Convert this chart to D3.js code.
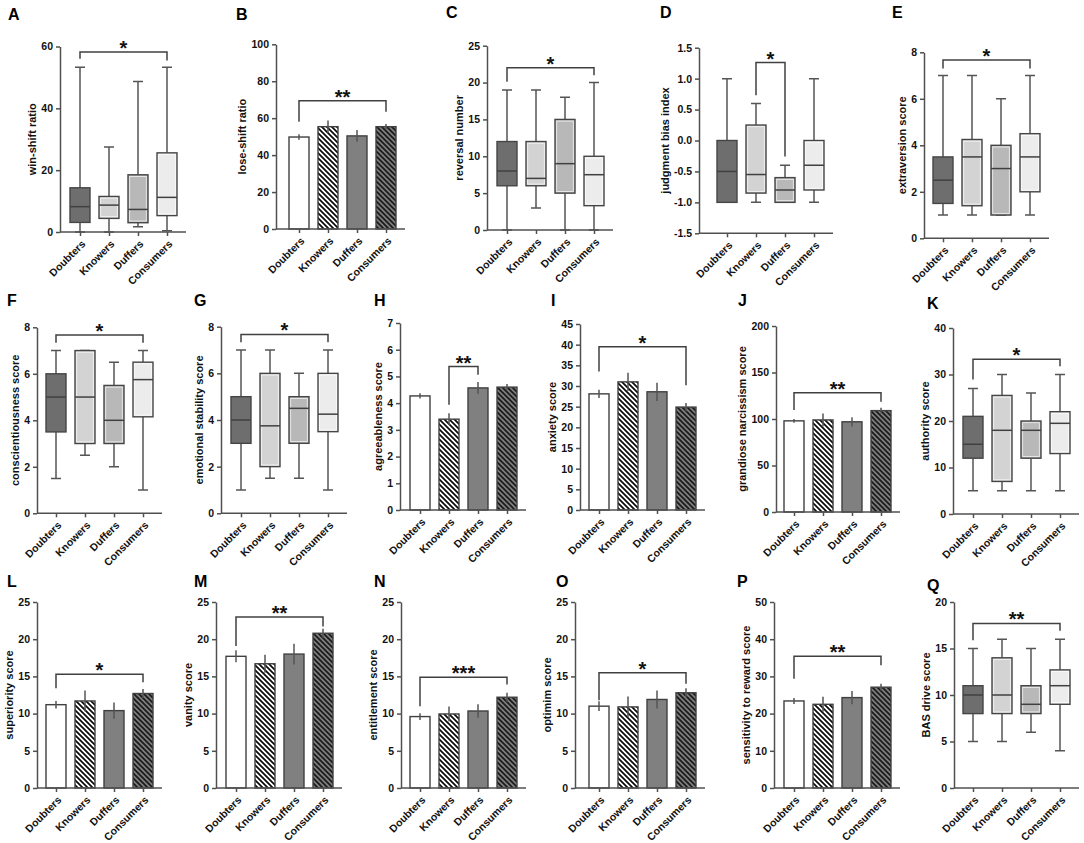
<!DOCTYPE html>
<html>
<head>
<meta charset="utf-8">
<script src="https://cdn.jsdelivr.net/npm/d3@7"></script>
<style>
  body { margin: 0; background: #fff; }
  svg { font-family: "Liberation Sans", Arial, sans-serif; }
  .axis .domain, .axis .tick line { stroke: #505050; stroke-width: 1.5; }
  .axis text { fill: #111; font-size: 10.5px; font-weight: bold; }
</style>
</head>
<body>
<script>
var groups = ["Doubters", "Knowers", "Duffers", "Consumers"];

// box plots: [min, q1, median, q3, max] per group
var winShift = [[0, 3.1, 8.2, 14.3, 53.3], [0, 4.4, 8.7, 11.5, 27.5], [1.7, 3.0, 7.3, 18.5, 48.7], [0.4, 5.3, 11.2, 25.6, 53.3]];
var reversalNumber = [[0, 6, 8, 12, 19], [3, 6, 7, 12, 19], [0, 5, 9, 15, 18], [0, 3.3, 7.5, 10, 20]];
var judgmentBias = [[-1, -1, -0.5, 0, 1], [-1, -0.85, -0.55, 0.25, 0.6], [-1, -1, -0.8, -0.6, -0.4], [-1, -0.8, -0.4, 0, 1]];
var extraversion = [[1, 1.5, 2.5, 3.5, 7], [1, 1.4, 3.5, 4.25, 7], [1, 1, 3, 4, 6], [1, 2, 3.5, 4.5, 7]];
var conscientiousness = [[1.5, 3.5, 5, 6, 7], [2.5, 3, 5, 7, 7], [2, 3, 4, 5.5, 6.5], [1, 4.15, 5.75, 6.5, 7]];
var emotionalStability = [[1, 3, 4, 5, 7], [1.5, 2, 3.75, 6, 7], [1.5, 3, 4.5, 5, 6], [1, 3.5, 4.25, 6, 7]];
var authority = [[5, 12, 15, 21, 27], [5, 7, 18, 25.5, 30], [5, 12, 18, 20, 26], [5, 13, 19.5, 22, 30]];
var basDrive = [[5, 8, 10, 11, 15], [5, 8, 10, 14, 16], [6, 8, 9, 11, 15], [4, 9, 11, 12.7, 16]];

// bar charts: means and error (sem)
var loseShiftMean = [49.8, 55.4, 50.4, 55.4], loseShiftErr = [1.5, 3.4, 3.2, 1.5];
var agreeablenessMean = [4.27, 3.4, 4.57, 4.6], agreeablenessErr = [0.1, 0.22, 0.22, 0.12];
var anxietyMean = [28.1, 31, 28.6, 24.9], anxietyErr = [1, 2.2, 2.2, 1];
var narcissismMean = [98, 99, 97, 109], narcissismErr = [2, 7, 5, 3];
var superiorityMean = [11.2, 11.7, 10.4, 12.7], superiorityErr = [0.5, 1.4, 1.1, 0.6];
var vanityMean = [17.7, 16.7, 18.0, 20.8], vanityErr = [0.8, 1.2, 1.4, 0.6];
var entitlementMean = [9.6, 9.95, 10.35, 12.2], entitlementErr = [0.45, 1.0, 0.9, 0.6];
var optimismMean = [11.0, 10.9, 11.9, 12.8], optimismErr = [0.65, 1.4, 1.2, 0.6];
var rewardMean = [23.4, 22.5, 24.3, 27.1], rewardErr = [0.8, 2, 1.8, 0.9];

// y ticks
var ticksA = [0, 20, 40, 60], ticksB = [0, 20, 40, 60, 80, 100], ticksC = [0, 5, 10, 15, 20, 25];
var ticksD = [-1.5, -1.0, -0.5, 0.0, 0.5, 1.0, 1.5], ticks8 = [0, 2, 4, 6, 8], ticksH = [0, 1, 2, 3, 4, 5, 6, 7];
var ticksI = [0, 5, 10, 15, 20, 25, 30, 35, 40, 45], ticksJ = [0, 50, 100, 150, 200], ticksK = [0, 10, 20, 30, 40];
var ticks25 = [0, 5, 10, 15, 20, 25], ticksP = [0, 10, 20, 30, 40, 50], ticksQ = [0, 5, 10, 15, 20];

// significance: [from, to, bracket y, left leg end, right leg end, label]
var sigA = [0, 3, 58.2, 56, 55.5, "*"], sigB = [0, 3, 69.5, 58, 63.5, "**"], sigC = [0, 3, 22, 20.1, 21, "*"];
var sigD = [1, 2, 1.26, 0.73, -0.26, "*"], sigE = [0, 3, 7.67, 7.3, 7.3, "*"], sigF = [0, 3, 7.67, 7.34, 7.34, "*"];
var sigG = [0, 3, 7.67, 7.33, 7.33, "*"], sigH = [1, 2, 5.37, 3.94, 5.06, "**"], sigI = [0, 3, 39.5, 33.5, 30.2, "*"];
var sigJ = [0, 3, 128.3, 109.7, 118.6, "**"], sigK = [0, 3, 33.3, 28.9, 31.75, "*"], sigL = [0, 3, 15.3, 13.4, 14.2, "*"];
var sigM = [0, 3, 23, 19.1, 21.7, "**"], sigN = [0, 3, 14.9, 11, 13.9, "***"], sigO = [0, 3, 15.5, 11.8, 14, "*"];
var sigP = [0, 3, 35.4, 29.4, 33, "**"], sigQ = [0, 3, 17.7, 15.9, 16.9, "**"];

var boxFill = ["#6e6e6e", "#d3d3d3", "#b8b8b8", "#ececec"];
var barFill = ["#fff", "url(#hatchLight)", "#808080", "url(#hatchDark)"];

var panels = [
  {id: "A", box: winShift, title: "win-shift ratio", ticks: ticksA, sig: sigA, ax: 60, c0: 80, top: 46.5, bot: 232, lx: 8, ly: 20},
  {id: "B", mean: loseShiftMean, err: loseShiftErr, title: "lose-shift ratio", ticks: ticksB, sig: sigB, ax: 276, c0: 299, top: 44.3, bot: 229, lx: 236, ly: 20},
  {id: "C", box: reversalNumber, title: "reversal number", ticks: ticksC, sig: sigC, ax: 487, c0: 507, top: 45.7, bot: 230, lx: 446, ly: 18},
  {id: "D", box: judgmentBias, title: "judgment bias index", ticks: ticksD, sig: sigD, ax: 699, c0: 727, top: 47.7, bot: 233.3, lx: 660, ly: 18, fmt: function(d) { return d.toFixed(1); }},
  {id: "E", box: extraversion, title: "extraversion score", ticks: ticks8, sig: sigE, ax: 924, c0: 943, top: 52.3, bot: 238.3, lx: 892, ly: 18},
  {id: "F", box: conscientiousness, title: "conscientiousness score", ticks: ticks8, sig: sigF, ax: 37, c0: 56, top: 327.3, bot: 513.3, lx: 7, ly: 306},
  {id: "G", box: emotionalStability, title: "emotional stability score", ticks: ticks8, sig: sigG, ax: 221, c0: 241, top: 326.7, bot: 513.3, lx: 194, ly: 306},
  {id: "H", mean: agreeablenessMean, err: agreeablenessErr, title: "agreeableness score", ticks: ticksH, sig: sigH, ax: 400, c0: 420, top: 323, bot: 510, lx: 374, ly: 306},
  {id: "I", mean: anxietyMean, err: anxietyErr, title: "anxiety score", ticks: ticksI, sig: sigI, ax: 580, c0: 599, top: 324, bot: 510, lx: 551, ly: 306},
  {id: "J", mean: narcissismMean, err: narcissismErr, title: "grandiose narcissism score", ticks: ticksJ, sig: sigJ, ax: 776, c0: 794, top: 326, bot: 512, lx: 738, ly: 306},
  {id: "K", box: authority, title: "authority score", ticks: ticksK, sig: sigK, ax: 953, c0: 973, top: 328, bot: 514, lx: 927, ly: 309},
  {id: "L", mean: superiorityMean, err: superiorityErr, title: "superiority score", ticks: ticks25, sig: sigL, ax: 37, c0: 56, top: 602, bot: 788, lx: 7, ly: 587},
  {id: "M", mean: vanityMean, err: vanityErr, title: "vanity score", ticks: ticks25, sig: sigM, ax: 216, c0: 236, top: 602, bot: 788, lx: 194, ly: 587},
  {id: "N", mean: entitlementMean, err: entitlementErr, title: "entitlement score", ticks: ticks25, sig: sigN, ax: 401, c0: 420, top: 602, bot: 788, lx: 374, ly: 587},
  {id: "O", mean: optimismMean, err: optimismErr, title: "optimim score", ticks: ticks25, sig: sigO, ax: 575, c0: 599, top: 602, bot: 788, lx: 556, ly: 587},
  {id: "P", mean: rewardMean, err: rewardErr, title: "sensitivity to reward score", ticks: ticksP, sig: sigP, ax: 774, c0: 794, top: 602, bot: 788, lx: 737, ly: 587},
  {id: "Q", box: basDrive, title: "BAS drive score", ticks: ticksQ, sig: sigQ, ax: 954, c0: 973, top: 602, bot: 788, lx: 927, ly: 591}
];

var svg = d3.select("body").append("svg")
    .attr("width", 1084)
    .attr("height", 843);

var defs = svg.append("defs");
function hatch(id, bg, fg) {
    var pat = defs.append("pattern").attr("id", id)
        .attr("patternUnits", "userSpaceOnUse")
        .attr("width", 5).attr("height", 5);
    pat.append("rect").attr("width", 5).attr("height", 5).attr("fill", bg);
    pat.append("path")
        .attr("d", "M-1,-1L6,6M-1,4L1,6M4,-1L6,1")
        .attr("stroke", fg).attr("stroke-width", 1.7);
}
hatch("hatchLight", "#fff", "#0a0a0a");
hatch("hatchDark", "#7e7e7e", "#1a1a1a");

panels.forEach(drawPanel);

function drawPanel (p) {
    var y = d3.scaleLinear()
        .domain([p.ticks[0], p.ticks[p.ticks.length - 1]])
        .range([p.bot, p.top]);
    var x = d3.scalePoint()
        .domain(groups)
        .range([p.c0, p.c0 + 87]);
    var g = svg.append("g");

    if (p.box) {
        var bx = g.selectAll(".bx").data(p.box).enter().append("g");
        bx.append("path")
            .attr("d", function(d, i) {
                var cx = x(groups[i]);
                return "M" + cx + "," + y(d[4]) + "V" + y(d[3]) +
                    "M" + cx + "," + y(d[1]) + "V" + y(d[0]) +
                    "M" + (cx - 5) + "," + y(d[4]) + "H" + (cx + 5) +
                    "M" + (cx - 5) + "," + y(d[0]) + "H" + (cx + 5);
            })
            .attr("stroke", "#555").attr("stroke-width", 1.5).attr("fill", "none");
        bx.append("rect")
            .attr("x", function(d, i) { return x(groups[i]) - 10; })
            .attr("y", function(d) { return y(d[3]); })
            .attr("width", 20)
            .attr("height", function(d) { return y(d[1]) - y(d[3]); })
            .attr("fill", function(d, i) { return boxFill[i]; })
            .attr("stroke", "#454545").attr("stroke-width", 1.4);
        bx.filter(function(d, i) { return i > 0; }).append("rect")
            .attr("x", function(d) { return x(groups[p.box.indexOf(d)]) - 8.3; })
            .attr("y", function(d) { return y(d[3]) + 1.7; })
            .attr("width", 16.6)
            .attr("height", function(d) { return Math.max(0, y(d[1]) - y(d[3]) - 3.4); })
            .attr("fill", "none")
            .attr("stroke", "#fff").attr("stroke-width", 0.8).attr("opacity", 0.8);
        bx.append("line")
            .attr("x1", function(d, i) { return x(groups[i]) - 10; })
            .attr("x2", function(d, i) { return x(groups[i]) + 10; })
            .attr("y1", function(d) { return y(d[2]); })
            .attr("y2", function(d) { return y(d[2]); })
            .attr("stroke", "#404040").attr("stroke-width", 1.5);
    } else {
        g.selectAll(".bar").data(p.mean).enter().append("rect")
            .attr("x", function(d, i) { return x(groups[i]) - 10; })
            .attr("y", function(d) { return y(d); })
            .attr("width", 20)
            .attr("height", function(d) { return y(p.ticks[0]) - y(d); })
            .attr("fill", function(d, i) { return barFill[i]; })
            .attr("stroke", "#404040").attr("stroke-width", 1.4);
        g.selectAll(".err").data(p.mean).enter().append("line")
            .attr("x1", function(d, i) { return x(groups[i]); })
            .attr("x2", function(d, i) { return x(groups[i]); })
            .attr("y1", function(d, i) { return y(d - p.err[i]); })
            .attr("y2", function(d, i) { return y(d + p.err[i]); })
            .attr("stroke", "#555").attr("stroke-width", 1.5);
    }

    // significance bracket
    var s = p.sig, xa = x(groups[s[0]]), xb = x(groups[s[1]]);
    g.append("path")
        .attr("d", "M" + xa + "," + y(s[3]) + "V" + y(s[2]) + "H" + xb + "V" + y(s[4]))
        .attr("fill", "none").attr("stroke", "#404040").attr("stroke-width", 1.5);
    g.append("text")
        .attr("x", (xa + xb) / 2)
        .attr("y", y(s[2]) + 3)
        .attr("text-anchor", "middle")
        .attr("font-size", 20).attr("font-weight", "bold").attr("fill", "#111")
        .text(s[5]);

    // axes
    var yAxis = g.append("g").attr("class", "axis")
        .attr("transform", "translate(" + p.ax + ",0)")
        .call(d3.axisLeft(y).tickValues(p.ticks).tickSize(4).tickSizeOuter(0)
            .tickFormat(p.fmt || d3.format("d")));
    var xAxis = g.append("g").attr("class", "axis")
        .attr("transform", "translate(0," + p.bot + ")")
        .call(d3.axisBottom(x).tickSize(4).tickSizeOuter(0));
    xAxis.select(".domain").attr("d", "M" + p.ax + ",0H" + (p.c0 + 106));
    xAxis.selectAll(".tick text")
        .attr("x", 0).attr("y", 0).attr("dy", "0.35em")
        .attr("text-anchor", "end")
        .attr("transform", "translate(3,10) rotate(-45)");

    var bb = yAxis.node().getBBox();
    g.append("text")
        .attr("transform", "translate(" + (p.ax + bb.x - 5) + "," + ((p.top + p.bot) / 2) + ") rotate(-90)")
        .attr("text-anchor", "middle")
        .attr("font-size", 11).attr("font-weight", "bold").attr("fill", "#111")
        .text(p.title);

    svg.append("text")
        .attr("x", p.lx).attr("y", p.ly)
        .attr("font-size", 16).attr("font-weight", "bold").attr("fill", "#000")
        .text(p.id);
}
</script>
</body>
</html>
